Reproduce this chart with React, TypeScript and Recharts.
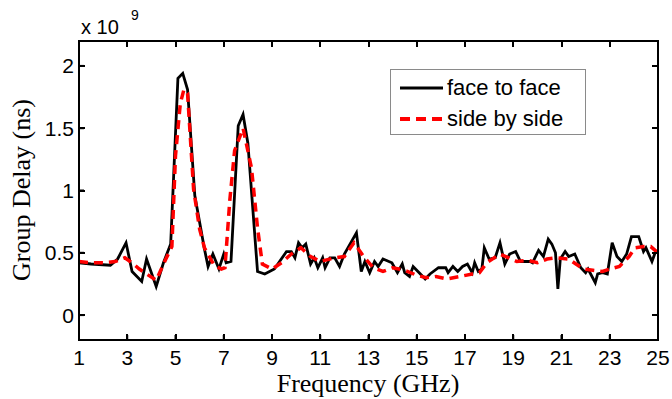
import React from 'react';
import { LineChart, Line, XAxis, YAxis, Legend, Label } from 'recharts';

const faceFreq = [1.0, 1.5, 2.3, 2.6, 2.95, 3.2, 3.6, 3.8, 4.2, 4.5, 4.8, 5.1, 5.3, 5.5, 5.8, 6.2, 6.35, 6.55, 6.8, 7.0, 7.1, 7.3, 7.6, 7.8, 8.0, 8.4, 8.7, 9.1, 9.6, 9.8, 9.95, 10.1, 10.25, 10.4, 10.6, 10.75, 10.9, 11.1, 11.2, 11.4, 11.6, 11.8, 12.0, 12.5, 12.7, 12.85, 13.05, 13.25, 13.4, 13.6, 13.97, 14.2, 14.4, 14.5, 14.7, 14.85, 15.05, 15.35, 15.55, 15.9, 16.2, 16.3, 16.5, 16.7, 16.9, 17.1, 17.3, 17.4, 17.55, 17.7, 17.8, 18.0, 18.25, 18.45, 18.65, 18.85, 19.1, 19.3, 19.7, 19.8, 20.05, 20.25, 20.45, 20.6, 20.75, 20.85, 20.95, 21.15, 21.3, 21.55, 21.8, 22.0, 22.1, 22.4, 22.5, 22.7, 22.9, 23.1, 23.3, 23.5, 23.7, 23.9, 24.2, 24.4, 24.5, 24.75, 24.9];
const faceDelay = [0.42, 0.41, 0.40, 0.45, 0.58, 0.35, 0.27, 0.45, 0.23, 0.42, 0.57, 1.90, 1.94, 1.81, 0.96, 0.53, 0.39, 0.49, 0.37, 0.49, 0.42, 0.43, 1.52, 1.61, 1.38, 0.35, 0.33, 0.37, 0.51, 0.51, 0.46, 0.58, 0.54, 0.57, 0.41, 0.46, 0.38, 0.46, 0.38, 0.46, 0.46, 0.39, 0.49, 0.66, 0.35, 0.43, 0.34, 0.43, 0.39, 0.45, 0.42, 0.34, 0.41, 0.34, 0.31, 0.39, 0.35, 0.29, 0.33, 0.38, 0.38, 0.34, 0.39, 0.35, 0.39, 0.41, 0.34, 0.42, 0.35, 0.37, 0.54, 0.45, 0.46, 0.58, 0.41, 0.49, 0.51, 0.43, 0.43, 0.42, 0.52, 0.47, 0.61, 0.57, 0.50, 0.21, 0.45, 0.51, 0.47, 0.49, 0.38, 0.34, 0.37, 0.26, 0.33, 0.34, 0.33, 0.58, 0.47, 0.43, 0.49, 0.63, 0.63, 0.51, 0.54, 0.43, 0.51];

const sideFreq = [1.0, 1.5, 2.0, 2.5, 2.9, 3.2, 3.5, 3.8, 4.2, 4.6, 4.85, 5.0, 5.2, 5.35, 5.5, 5.75, 6.0, 6.2, 6.6, 6.9, 7.05, 7.25, 7.45, 7.8, 8.15, 8.4, 8.6, 9.0, 9.4, 9.8, 10.2, 10.6, 11.0, 11.6, 12.0, 12.4, 12.8, 13.2, 13.6, 14.0, 14.5, 15.0, 15.4, 15.8, 16.25, 16.8, 17.3, 17.6, 17.9, 18.45, 19.15, 19.6, 20.0, 20.4, 20.8, 21.3, 21.9, 22.3, 22.7, 23.0, 23.4, 23.8, 24.05, 24.4, 24.7, 25.0];
const sideDelay = [0.43, 0.42, 0.42, 0.43, 0.46, 0.42, 0.37, 0.33, 0.28, 0.45, 0.55, 1.28, 1.70, 1.81, 1.78, 1.01, 0.69, 0.54, 0.40, 0.37, 0.38, 0.92, 1.32, 1.50, 1.18, 0.70, 0.41, 0.37, 0.42, 0.49, 0.54, 0.47, 0.43, 0.46, 0.47, 0.58, 0.47, 0.38, 0.35, 0.38, 0.36, 0.32, 0.30, 0.31, 0.29, 0.31, 0.33, 0.34, 0.42, 0.49, 0.43, 0.44, 0.42, 0.45, 0.46, 0.45, 0.37, 0.36, 0.35, 0.37, 0.39, 0.47, 0.54, 0.55, 0.55, 0.50];

const xTicks = [1, 3, 5, 7, 9, 11, 13, 15, 17, 19, 21, 23, 25];
const yTicks = [0, 0.5, 1, 1.5, 2];
const xDomain: [number, number] = [1, 25];
const yDomain: [number, number] = [-0.2, 2.2];

const faceData = faceFreq.map((f, i) => ({ f, v: faceDelay[i] }));
const sideData = sideFreq.map((f, i) => ({ f, v: sideDelay[i] }));

// chart layout (plot area of the LineChart below)
const CW = 672;
const CH = 399;
const M = { top: 41, right: 14, bottom: 29, left: 0 };
const YW = 79;
const XH = 30;
const PL = M.left + YW;
const PT = M.top;
const PR = CW - M.right;
const PB = CH - M.bottom - XH;
const TICK = 5;
const BW = 2;

// frame helpers (same linear mapping as the chart's axes)
const fx = (t: number) => PL + ((t - xDomain[0]) / (xDomain[1] - xDomain[0])) * (PR - PL);
const fy = (v: number) => PB - ((v - yDomain[0]) / (yDomain[1] - yDomain[0])) * (PB - PT);

// frame box: outer edge, inner origin
const FL = PL - BW / 2;
const FT = PT - BW / 2;
const FW = PR - PL + BW;
const FH = PB - PT + BW;
const IL = FL + BW;
const IT = FT + BW;
const IW = FW - 2 * BW;
const IH = FH - 2 * BW;

const sans = '"Liberation Sans", Arial, Helvetica, sans-serif';
const serif = '"Liberation Serif", "Times New Roman", serif';

const tickStyle = (left: number, top: number, w: number, h: number): React.CSSProperties => ({
  position: 'absolute',
  left,
  top,
  width: w,
  height: h,
  background: '#000',
});

const renderLegend = () => (
  <div
    style={{
      position: 'relative',
      width: FW,
      height: FH,
      border: `${BW}px solid #000`,
      boxSizing: 'border-box',
      pointerEvents: 'none',
    }}
  >
    {xTicks.map((t) => (
      <React.Fragment key={`x${t}`}>
        <div style={tickStyle(fx(t) - BW / 2 - IL, 0, BW, TICK)} />
        <div style={tickStyle(fx(t) - BW / 2 - IL, IH - TICK, BW, TICK)} />
      </React.Fragment>
    ))}
    {yTicks.map((t) => (
      <React.Fragment key={`y${t}`}>
        <div style={tickStyle(0, fy(t) - BW / 2 - IT, TICK, BW)} />
        <div style={tickStyle(IW - TICK, fy(t) - BW / 2 - IT, TICK, BW)} />
      </React.Fragment>
    ))}
    <div
      style={{
        position: 'absolute',
        left: 390 - IL,
        top: 69 - IT,
        width: 194,
        height: 64,
        border: '1px solid #8a8a8a',
        background: '#fff',
        fontFamily: sans,
        fontSize: 22,
        color: '#000',
        boxSizing: 'content-box',
        pointerEvents: 'auto',
      }}
    >
      <div style={{ display: 'flex', alignItems: 'center', height: 32, marginTop: 2 }}>
        <svg width={56} height={32} style={{ display: 'block' }}>
          <line x1={9} x2={52} y1={16} y2={16} stroke="#000" strokeWidth={3} />
        </svg>
        <span>face to face</span>
      </div>
      <div style={{ display: 'flex', alignItems: 'center', height: 30 }}>
        <svg width={56} height={30} style={{ display: 'block' }}>
          <line x1={9} x2={52} y1={15} y2={15} stroke="#ff0000" strokeWidth={4} strokeDasharray="10 6" />
        </svg>
        <span>side by side</span>
      </div>
    </div>
  </div>
);

const renderXLabels = () => (
  <g>
    <text x={368} y={392} textAnchor="middle" fontFamily={serif} fontSize={26} fill="#000">
      Frequency (GHz)
    </text>
    <text x={81} y={34} fontFamily={sans} fontSize={20} fill="#000">x 10</text>
    <text x={131} y={20} fontFamily={sans} fontSize={14} fill="#000">9</text>
  </g>
);

export default function App() {
  return (
    <div style={{ position: 'absolute', left: 0, top: 0, width: CW, height: CH, overflow: 'hidden', background: '#fff' }}>
      <LineChart width={CW} height={CH} margin={M}>
        <XAxis
          dataKey="f"
          type="number"
          domain={xDomain}
          ticks={xTicks}
          allowDataOverflow
          height={XH}
          tickSize={-TICK}
          tickMargin={15}
          stroke="#000"
          axisLine={{ stroke: '#000', strokeWidth: 2 }}
          tickLine={{ stroke: '#000', strokeWidth: 2 }}
          tick={{ fill: '#000', fontSize: 21, fontFamily: sans }}
        >
          <Label content={renderXLabels} />
        </XAxis>
        <YAxis
          type="number"
          domain={yDomain}
          ticks={yTicks}
          allowDataOverflow
          width={YW}
          tickSize={-TICK}
          tickMargin={10}
          axisLine={{ stroke: '#000', strokeWidth: 2 }}
          tickLine={{ stroke: '#000', strokeWidth: 2 }}
          tick={{ fill: '#000', fontSize: 21, fontFamily: sans }}
          tickFormatter={(v: number) => String(v)}
        >
          <Label
            content={() => (
              <text
                x={30}
                y={190}
                transform="rotate(-90 30 190)"
                textAnchor="middle"
                fontFamily={serif}
                fontSize={26}
                fill="#000"
              >
                Group Delay (ns)
              </text>
            )}
          />
        </YAxis>
        <Legend
          layout="horizontal"
          verticalAlign="middle"
          align="center"
          content={renderLegend}
          wrapperStyle={{ position: 'absolute', left: FL, top: FT, width: FW, height: FH, pointerEvents: 'none' }}
        />
        <Line
          data={faceData}
          dataKey="v"
          name="face to face"
          type="linear"
          stroke="#000"
          strokeWidth={2.8}
          dot={false}
          activeDot={false}
          isAnimationActive={false}
        />
        <Line
          data={sideData}
          dataKey="v"
          name="side by side"
          type="linear"
          stroke="#ff0000"
          strokeWidth={3.5}
          strokeDasharray="9 6"
          dot={false}
          activeDot={false}
          isAnimationActive={false}
        />
      </LineChart>
    </div>
  );
}
